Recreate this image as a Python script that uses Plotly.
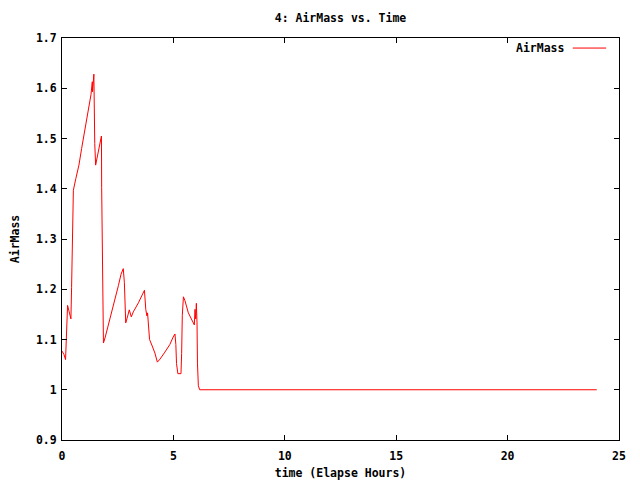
import plotly.graph_objects as go

time_h = [0.0, 0.09, 0.16, 0.18, 0.22, 0.25, 0.31, 0.40, 0.43, 0.46, 0.51, 0.62, 0.76, 0.88,
          1.03, 1.18, 1.30, 1.36, 1.37, 1.43, 1.44, 1.47, 1.51, 1.57, 1.69, 1.74, 1.77, 1.78,
          1.83, 1.86, 1.93, 2.15, 2.38, 2.53, 2.65, 2.75, 2.80, 2.83, 2.86, 2.95, 3.02, 3.11,
          3.20, 3.43, 3.61, 3.70, 3.76, 3.81, 3.84, 3.87, 3.93, 4.05, 4.17, 4.28, 4.40, 4.62,
          4.84, 4.99, 5.07, 5.11, 5.14, 5.20, 5.34, 5.37, 5.40, 5.45, 5.52, 5.67, 5.82, 5.94,
          5.97, 6.00, 6.03, 6.06, 6.08, 6.12, 6.18, 10.0, 15.0, 20.0, 24.0]
airmass = [1.077, 1.070, 1.060, 1.087, 1.140, 1.168, 1.157, 1.141, 1.203, 1.327, 1.397, 1.420,
           1.447, 1.480, 1.520, 1.557, 1.587, 1.613, 1.593, 1.628, 1.583, 1.490, 1.447, 1.460,
           1.490, 1.500, 1.505, 1.403, 1.197, 1.093, 1.103, 1.140, 1.180, 1.207, 1.230, 1.241,
           1.213, 1.160, 1.133, 1.147, 1.159, 1.145, 1.155, 1.173, 1.190, 1.198, 1.160, 1.147,
           1.153, 1.140, 1.100, 1.087, 1.073, 1.055, 1.061, 1.075, 1.090, 1.105, 1.111, 1.090,
           1.052, 1.032, 1.032, 1.072, 1.148, 1.185, 1.177, 1.153, 1.140, 1.129, 1.160, 1.141,
           1.172, 1.133, 1.053, 1.008, 1.000, 1.000, 1.000, 1.000, 1.000]

x_ticks = [0, 5, 10, 15, 20, 25]
y_ticks = [0.9, 1.0, 1.1, 1.2, 1.3, 1.4, 1.5, 1.6, 1.7]
y_tick_labels = ["0.9", "1", "1.1", "1.2", "1.3", "1.4", "1.5", "1.6", "1.7"]

FONT = dict(family="DejaVu Sans Mono", size=11.5, color="black", weight="bold")

fig = go.Figure()
fig.add_trace(go.Scatter(x=time_h, y=airmass, mode="lines", name="AirMass",
                         line=dict(color="#ff0000", width=1), showlegend=False))

axis_common = dict(showgrid=False, zeroline=False, showline=True, linecolor="black",
                   linewidth=1, mirror="allticks", ticks="inside", ticklen=5,
                   tickcolor="black", tickfont=FONT, automargin=False)

fig.update_xaxes(range=[0, 25], tickvals=x_ticks, ticklabelstandoff=5, **axis_common,
                 title=dict(text="time (Elapse Hours)", font=FONT, standoff=8))
fig.update_yaxes(range=[0.9, 1.7], tickvals=y_ticks, ticktext=y_tick_labels,
                 ticklabelstandoff=2, **axis_common,
                 title=dict(text="AirMass", font=FONT, standoff=17))

fig.add_annotation(text="AirMass", xref="paper", yref="paper", x=0.905, y=0.975,
                   xanchor="right", yanchor="middle", showarrow=False, font=FONT)
fig.add_shape(type="line", xref="paper", yref="paper", x0=0.917, x1=0.977, y0=0.975, y1=0.975,
              line=dict(color="#ff0000", width=1))

fig.update_layout(
    width=632, height=472,
    margin=dict(l=54, r=21, t=30, b=40),
    paper_bgcolor="white", plot_bgcolor="white",
    title=dict(text="4: AirMass vs. Time", xref="paper", x=0.5, xanchor="center",
               y=0.979, yanchor="middle", font=FONT, automargin=False),
    font=FONT,
)

fig.write_html("out.html")
